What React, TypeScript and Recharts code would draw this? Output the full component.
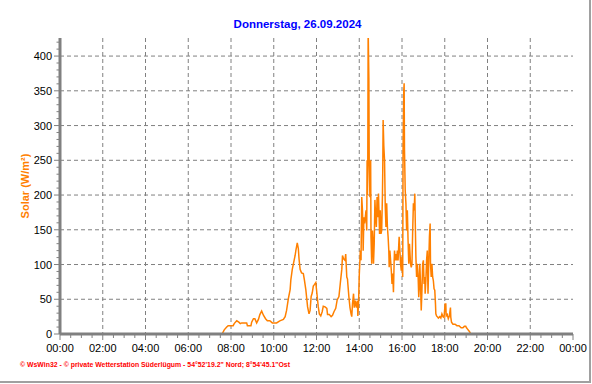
import React from 'react';
import { LineChart, Line, XAxis, YAxis, CartesianGrid } from 'recharts';

// time of day in minutes
const minutes = [
  0, 455, 461, 468, 472, 486, 489, 496, 502, 506, 510, 524, 526, 536, 538, 543, 547, 552, 557, 561,
  566, 571, 577, 582, 589, 596, 608, 617, 627, 632, 636, 641, 646, 648, 652, 656, 660, 662, 666, 669,
  671, 674, 678, 683, 686, 690, 692, 695, 699, 702, 705, 708, 711, 714, 718, 720, 723, 725, 728, 732,
  736, 739, 744, 749, 751, 756, 761, 765, 769, 774, 778, 783, 787, 791, 793, 796, 800, 802, 805, 807,
  808, 811, 814, 817, 819, 821, 824, 826, 829, 832, 835, 836, 838, 840, 843, 845, 847, 849, 850, 851,
  853, 855, 857, 859, 861, 862, 863, 864, 865, 867, 868, 870, 872, 873, 875, 877, 879, 880, 882, 884,
  886, 888, 890, 892, 894, 895, 897, 899, 901, 903, 905, 906, 907, 909, 911, 913, 915, 917, 919, 921,
  923, 924, 926, 928, 930, 932, 934, 936, 938, 939, 941, 943, 945, 947, 949, 951, 952, 954, 956, 958,
  960, 962, 963, 965, 966, 967, 969, 971, 973, 975, 977, 979, 981, 982, 984, 986, 988, 990, 992, 994,
  996, 997, 999, 1001, 1003, 1005, 1007, 1009, 1010, 1012, 1014, 1016, 1018, 1020, 1022, 1024, 1025, 1027, 1029, 1031,
  1033, 1035, 1037, 1039, 1040, 1042, 1044, 1046, 1048, 1050, 1052, 1054, 1055, 1057, 1059, 1062, 1066, 1069, 1072, 1075,
  1078, 1081, 1083, 1084, 1087, 1090, 1093, 1096, 1097, 1099, 1103, 1109, 1114, 1120, 1126, 1131, 1135, 1139, 1141, 1144,
  1147, 1150, 1153, 1440,
];

// solar radiation W/m²
const solar = [
  0, 0, 6, 10, 12, 12, 15, 19, 17, 15, 16, 16, 12, 12, 17, 22, 22, 16, 21, 28,
  33, 27, 22, 19, 19, 16, 16, 19, 21, 25, 34, 51, 64, 78, 93, 103, 113, 120, 131, 123,
  108, 93, 88, 87, 78, 64, 54, 39, 29, 34, 54, 59, 69, 71, 74, 64, 49, 39, 29, 26,
  32, 40, 39, 37, 28, 28, 25, 27, 32, 37, 49, 54, 74, 93, 113, 108, 106, 115, 82, 79,
  72, 53, 38, 29, 25, 43, 58, 38, 48, 38, 48, 26, 43, 84, 120, 106, 197, 178, 159, 120,
  168, 159, 168, 178, 149, 250, 200, 250, 440, 368, 245, 197, 250, 140, 101, 149, 130, 101, 130, 193,
  168, 154, 197, 168, 202, 183, 144, 178, 144, 149, 197, 236, 308, 270, 250, 183, 154, 188, 154, 140,
  120, 96, 120, 106, 91, 72, 87, 60, 106, 120, 106, 115, 106, 120, 106, 130, 140, 120, 101, 91,
  111, 82, 265, 351, 361, 265, 207, 188, 149, 178, 135, 101, 130, 120, 101, 96, 101, 149, 188, 178,
  202, 168, 111, 82, 101, 87, 53, 72, 101, 72, 34, 63, 101, 106, 72, 82, 58, 77, 106, 120,
  58, 101, 140, 159, 101, 82, 101, 82, 77, 65, 63, 43, 29, 26, 25, 23, 25, 23, 29, 25,
  24, 43, 43, 26, 28, 22, 26, 38, 24, 17, 14, 14, 12, 12, 9, 9, 11, 11, 9, 7,
  5, 3, 0, 0,
];

const yMajor = [50, 100, 150, 200, 250, 300, 350, 400];
const yTicks = [0, 10, 20, 30, 40, 50, 60, 70, 80, 90, 100, 110, 120, 130, 140, 150, 160, 170, 180, 190, 200, 210, 220, 230, 240, 250, 260, 270, 280, 290, 300, 310, 320, 330, 340, 350, 360, 370, 380, 390, 400, 410, 420];
const xLabels = ['00:00', '02:00', '04:00', '06:00', '08:00', '10:00', '12:00', '14:00', '16:00', '18:00', '20:00', '22:00', '00:00'];
const xTicks = [0, 30, 60, 90, 120, 150, 180, 210, 240, 270, 300, 330, 360, 390, 420, 450, 480, 510, 540, 570, 600, 630, 660, 690, 720, 750, 780, 810, 840, 870, 900, 930, 960, 990, 1020, 1050, 1080, 1110, 1140, 1170, 1200, 1230, 1260, 1290, 1320, 1350, 1380, 1410, 1440];
const xGrid = [120, 240, 360, 480, 600, 720, 840, 960, 1080, 1200, 1320];

const data = minutes.map((t, i) => ({ t, v: solar[i] }));

const FONT = '"Liberation Sans", Arial, sans-serif';
const GRAY = '#808080';

const YTick = (props: any) => {
  const { x, y, payload } = props;
  const v = payload.value;
  const major = v % 50 === 0;
  return (
    <g>
      <line x1={x - (major ? 6 : 3.5)} x2={x} y1={y} y2={y} stroke={GRAY} strokeWidth={1} />
      {major && (
        <text x={x - 8} y={y} dy={4} textAnchor="end" fontSize={11} fill="#000" fontFamily={FONT}>
          {v}
        </text>
      )}
    </g>
  );
};

const XTick = (props: any) => {
  const { x, y, payload } = props;
  const v = payload.value;
  const major = v % 120 === 0;
  return (
    <g>
      <line x1={x} x2={x} y1={y} y2={y + (major ? 6 : 4)} stroke={GRAY} strokeWidth={1} />
      {major && (
        <text x={x} y={y + 18} textAnchor="middle" fontSize={11} fill="#000" fontFamily={FONT}>
          {xLabels[v / 120]}
        </text>
      )}
    </g>
  );
};

export default function App() {
  return (
    <div style={{ position: 'absolute', left: 0, top: 0, width: 592, height: 384, background: '#fff' }}>
      <div
        style={{
          position: 'absolute', left: 0, top: 0, width: 589, height: 381,
          borderRight: '2px solid #a0a0a0', borderBottom: '2px solid #a0a0a0',
        }}
      />
      <div style={{ position: 'absolute', left: 0, top: 0 }}>
        <LineChart width={592} height={384} data={data} margin={{ top: 38, right: 19, bottom: 20, left: 10 }}>
          <CartesianGrid
            horizontalValues={yMajor}
            verticalValues={xGrid}
            stroke={GRAY}
            strokeDasharray="4 3"
            strokeWidth={1}
          />
          <XAxis xAxisId="top" orientation="top" dataKey="t" type="number" domain={[0, 1440]} height={0}
            tick={false} tickLine={false} axisLine={{ stroke: '#000', strokeWidth: 1.5 }} />
          <YAxis yAxisId="right" orientation="right" type="number" domain={[0, 426]} width={0}
            tick={false} tickLine={false} axisLine={{ stroke: '#000', strokeWidth: 1.5 }} />
          <XAxis dataKey="t" type="number" domain={[0, 1440]} ticks={xTicks} interval={0}
            tickSize={0} tickMargin={0} tick={<XTick />} tickLine={false} height={30}
            axisLine={{ stroke: GRAY, strokeWidth: 3 }} />
          <YAxis type="number" domain={[0, 426]} ticks={yTicks} interval={0} allowDataOverflow
            tickSize={0} tickMargin={0} tick={<YTick />} tickLine={false} width={50}
            axisLine={{ stroke: GRAY, strokeWidth: 3 }} />
          <Line type="linear" dataKey="v" stroke="#ff8000" strokeWidth={1.5} dot={false}
            isAnimationActive={false} />
        </LineChart>
      </div>
      <svg width={592} height={384} style={{ position: 'absolute', left: 0, top: 0, pointerEvents: 'none' }}>
        <text x={297.5} y={28} textAnchor="middle" fontSize={11.5} fontWeight="bold" fill="#0000ff" fontFamily={FONT}>
          Donnerstag, 26.09.2024
        </text>
        <text x={25} y={186} transform="rotate(-90 25 186)" dy={4} textAnchor="middle" fontSize={11}
          fontWeight="bold" fill="#ff8000" fontFamily={FONT}>
          Solar (W/m²)
        </text>
        <text x={20} y={367} fontSize={7} fontWeight="bold" fill="#ff0000" fontFamily={FONT}
          textLength={270} lengthAdjust="spacingAndGlyphs">
          © WsWin32  -  © private Wetterstation Süderlügum  -  54°52'19.2" Nord; 8°54'45.1"Ost
        </text>
      </svg>
    </div>
  );
}
